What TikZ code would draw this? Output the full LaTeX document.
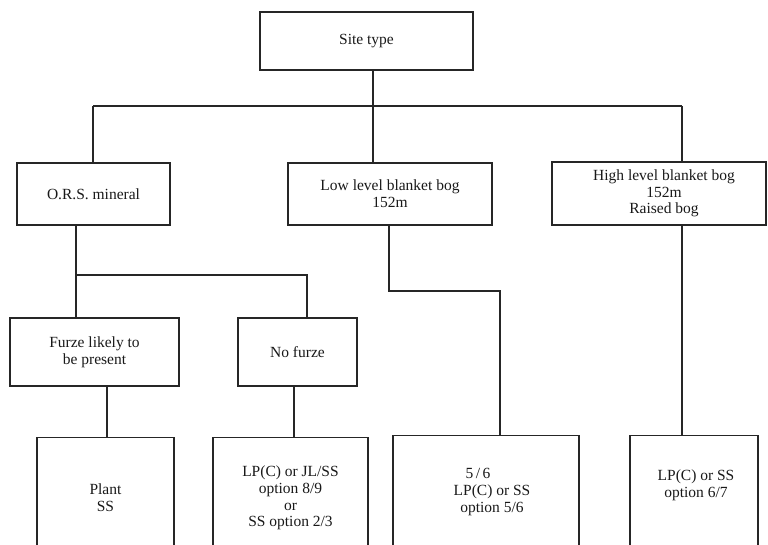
\documentclass[tikz,border=0pt]{standalone}
\usepackage{fontspec}
\setmainfont{Liberation Serif}
\begin{document}
\begin{tikzpicture}[x=1pt,y=-1pt,
  box/.style={draw=black!85,line width=1.1pt,inner sep=0pt,align=center,
    font=\fontsize{15.5}{16.7}\selectfont,text=black!90},
  txt/.style={inner sep=0pt,align=center,font=\fontsize{15.5}{16.7}\selectfont,text=black!90},
  conn/.style={draw=black!85,line width=1.1pt}]
\useasboundingbox (0,0) rectangle (768,545);
\clip (0,0) rectangle (768,545);
\fill[white] (0,0) rectangle (768,545);
% upper boxes
\node[box,minimum width=213pt,minimum height=58pt] (site) at (366.5,41) {Site type};
\node[box,minimum width=153pt,minimum height=62pt] (ors) at (93.5,194) {O.R.S. mineral};
\node[box,minimum width=204pt,minimum height=62pt] (low) at (390,194) {Low level blanket bog\\152m};
\node[box,minimum width=214pt,minimum height=63pt] (high) at (659,193.5) {\hspace*{10pt}High level blanket bog\\\hspace*{10pt}152m\\\hspace*{10pt}Raised bog};
\node[box,minimum width=169pt,minimum height=68pt] (furze) at (94.5,352) {Furze likely to\\be present};
\node[box,minimum width=119pt,minimum height=68pt] (nofurze) at (297.5,352) {No furze};
% bottom boxes (cut by the page edge)
\node[box,minimum width=137pt,minimum height=140pt,anchor=north] (plant) at (105.5,437) {};
\node[box,minimum width=155pt,minimum height=140pt,anchor=north] (lpjl) at (290.5,437) {};
\node[box,minimum width=186pt,minimum height=140pt,anchor=north] (five) at (486,435) {};
\node[box,minimum width=128pt,minimum height=140pt,anchor=north] (lpss) at (694,435) {};
\node[txt] (plantT) at (105.5,498) {Plant\\SS};
\node[txt] (lpjlT) at (290.5,498) {LP(C) or JL/SS\\option 8/9\\or\\SS option 2/3};
\node[txt] (fiveT) at (492,492) {\hspace*{-28pt}5\,/\,6\\LP(C) or SS\\option 5/6};
\node[txt] (lpssT) at (696,485) {LP(C) or SS\\option 6/7};
% connectors
\coordinate (j1) at (373,106);
\coordinate (busL) at (93,106);
\coordinate (busR) at (682,106);
\draw[conn] (j1 |- site.south) -- (j1);
\draw[conn] (busL) -- (busR);
\draw[conn] (busL) -- (busL |- ors.north);
\draw[conn] (j1) -- (j1 |- low.north);
\draw[conn] (busR) -- (busR |- high.north);
\coordinate (b2L) at (76,275);
\coordinate (b2R) at (307,275);
\draw[conn] (b2L |- ors.south) -- (b2L) -- (b2R) -- (b2R |- nofurze.north);
\draw[conn] (b2L) -- (b2L |- furze.north);
\coordinate (c1) at (107,410);
\draw[conn] (c1 |- furze.south) -- (c1 |- plant.north);
\coordinate (c2) at (294,410);
\draw[conn] (c2 |- nofurze.south) -- (c2 |- lpjl.north);
\coordinate (d1) at (389,291);
\coordinate (d2) at (500,291);
\draw[conn] (d1 |- low.south) -- (d1) -- (d2) -- (d2 |- five.north);
\draw[conn] (busR |- high.south) -- (busR |- lpss.north);
\end{tikzpicture}
\end{document}
